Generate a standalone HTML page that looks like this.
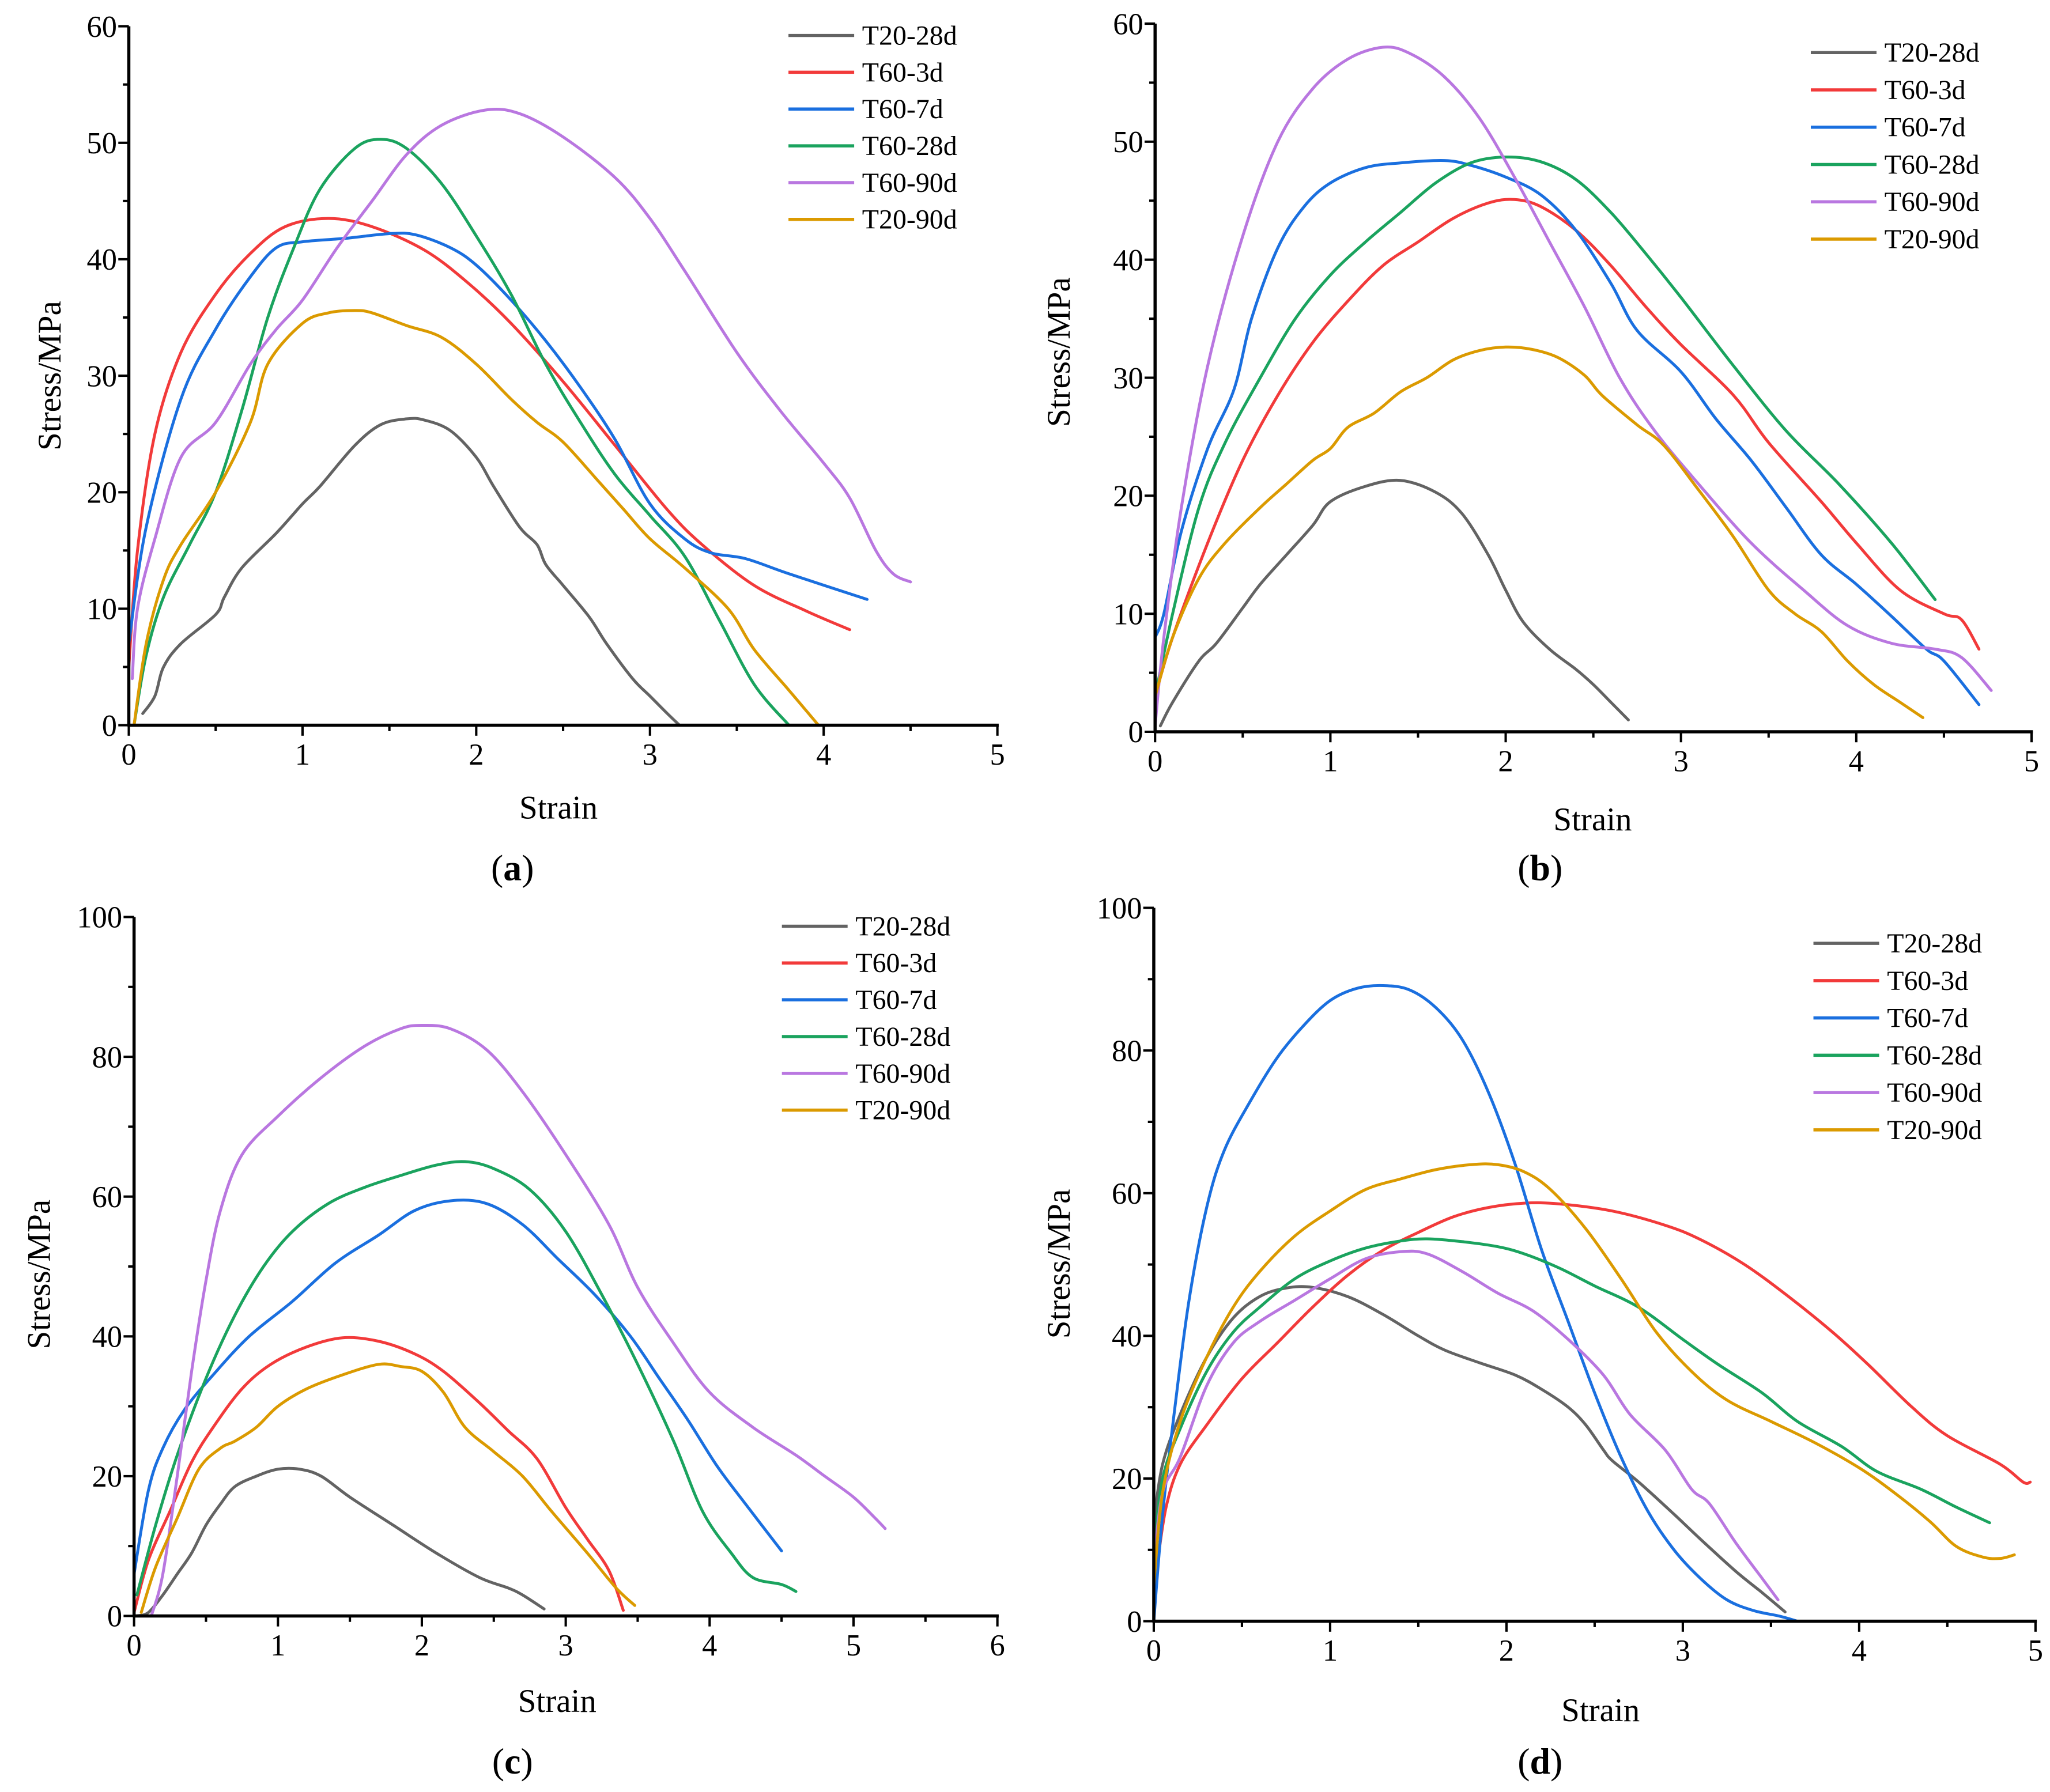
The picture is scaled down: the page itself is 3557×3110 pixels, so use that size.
<!DOCTYPE html>
<html><head><meta charset="utf-8">
<style>
html,body{margin:0;padding:0;background:#fff;}
svg{display:block;font-family:"Liberation Serif","DejaVu Serif",serif;}
svg text{font-family:"Liberation Serif","DejaVu Serif",serif;fill:#000;}
</style></head>
<body>
<svg id="fig" width="3557" height="3110" viewBox="0 0 1560 1364" font-family="Liberation Serif, DejaVu Serif, serif" xmlns="http://www.w3.org/2000/svg"></svg>
<script>
const seriesNames = ["T20-28d","T60-3d","T60-7d","T60-28d","T60-90d","T20-90d"];
const seriesColors = ["#636363","#F23A3A","#1A6FDF","#1AA35E","#B977E0","#DB9A00"];

const aT2028 = [[0.08,1],[0.15,2.5],[0.2,5],[0.3,7],[0.5,9.5],[0.55,11],[0.65,13.5],[0.85,16.5],[1,19],[1.1,20.5],[1.3,24],[1.45,25.8],[1.6,26.3],[1.7,26.2],[1.85,25.3],[2,23],[2.1,20.5],[2.25,17],[2.35,15.5],[2.4,13.8],[2.5,12],[2.65,9.3],[2.75,7],[2.9,4],[3.0,2.5],[3.1,1],[3.17,0]];
const aT603 = [[0,5],[0.05,15],[0.15,25],[0.3,32],[0.5,37],[0.7,40.5],[0.9,42.8],[1.15,43.5],[1.4,42.8],[1.7,40.8],[1.95,38],[2.2,34.5],[2.5,29.5],[2.8,24],[3.1,18.5],[3.3,15.5],[3.6,12],[3.9,9.8],[4.15,8.2]];
const aT607 = [[0,7],[0.1,17],[0.3,28],[0.5,34],[0.7,38.5],[0.85,41],[1,41.5],[1.25,41.8],[1.5,42.2],[1.65,42.1],[1.85,41],[2,39.5],[2.2,36.5],[2.4,33],[2.6,29],[2.8,24.5],[3.0,19],[3.2,16],[3.35,14.8],[3.55,14.3],[3.8,13],[4.25,10.8]];
const aT6028 = [[0.03,0],[0.1,6],[0.2,11],[0.35,15.5],[0.5,20],[0.65,27],[0.8,35],[0.95,41],[1.1,46],[1.3,49.5],[1.45,50.3],[1.6,49.5],[1.8,46.5],[2,42],[2.2,37],[2.4,31],[2.6,26],[2.8,21.5],[3.0,18],[3.2,14.5],[3.4,9],[3.6,3.5],[3.8,0]];
const aT6090 = [[0.02,4],[0.05,10],[0.15,16],[0.3,23],[0.5,26],[0.7,31],[0.85,34],[1,36.5],[1.2,41],[1.4,45],[1.6,49],[1.8,51.5],[2.05,52.8],[2.25,52.5],[2.5,50.5],[2.8,47],[3.0,43.5],[3.2,39],[3.5,32],[3.75,27],[4.0,22.5],[4.15,19.5],[4.3,15],[4.4,13],[4.5,12.3]];
const aT2090 = [[0.03,0],[0.1,7],[0.2,12.5],[0.3,15.5],[0.5,20],[0.7,26],[0.8,31],[1,34.5],[1.15,35.4],[1.3,35.6],[1.4,35.4],[1.6,34.3],[1.8,33.3],[2,31],[2.2,28],[2.35,26],[2.5,24.3],[2.7,21],[2.85,18.5],[3.0,16],[3.2,13.5],[3.45,10],[3.6,6.5],[3.8,3],[3.97,0]];

const bT2028 = [[0.03,0.5],[0.1,2.5],[0.25,6],[0.35,7.5],[0.5,10.5],[0.6,12.5],[0.75,15],[0.9,17.5],[1,19.5],[1.2,20.8],[1.4,21.3],[1.6,20.3],[1.75,18.5],[1.9,15],[2.0,12],[2.1,9.3],[2.25,7],[2.4,5.3],[2.5,4],[2.6,2.5],[2.7,1]];
const bT603 = [[0,3],[0.1,8],[0.3,16],[0.5,23],[0.7,28.5],[0.9,33],[1.1,36.5],[1.3,39.5],[1.5,41.5],[1.7,43.5],[1.9,44.8],[2.05,45.1],[2.2,44.5],[2.4,42.5],[2.6,39.5],[2.8,36],[3.0,32.8],[3.3,28.5],[3.5,24.5],[3.8,19.5],[4.0,16],[4.25,12],[4.5,10],[4.6,9.5],[4.7,7]];
const bT607 = [[0,8],[0.05,10],[0.15,17],[0.3,24],[0.45,29],[0.55,35],[0.7,41],[0.85,44.5],[1,46.5],[1.2,47.8],[1.4,48.2],[1.65,48.4],[1.8,48],[2.0,47],[2.2,45.5],[2.4,42.5],[2.6,38],[2.75,34],[3.0,30.5],[3.2,26.5],[3.4,23],[3.6,19],[3.8,15],[4.0,12.5],[4.2,9.8],[4.4,7],[4.5,6],[4.7,2.3]];
const bT6028 = [[0,3],[0.1,10],[0.25,19],[0.4,24.5],[0.6,30],[0.8,35],[1,38.7],[1.2,41.5],[1.4,44],[1.6,46.5],[1.8,48.2],[2.0,48.7],[2.2,48.3],[2.4,46.8],[2.6,44],[2.8,40.5],[3.0,36.8],[3.3,31],[3.6,25.5],[3.9,21],[4.2,16],[4.45,11.2]];
const bT6090 = [[0,0.5],[0.05,8],[0.15,19],[0.3,31],[0.5,42],[0.7,50],[0.9,54.5],[1.1,57],[1.3,58],[1.45,57.5],[1.65,55.5],[1.85,52],[2.05,47],[2.25,41.5],[2.45,36],[2.65,30],[2.85,25.5],[3.1,21],[3.4,16],[3.7,12],[3.95,9],[4.2,7.5],[4.45,7],[4.6,6.3],[4.77,3.5]];
const bT2090 = [[0,3],[0.1,8],[0.25,13],[0.4,16],[0.6,19],[0.75,21],[0.9,23],[1.0,24],[1.1,25.8],[1.25,27],[1.4,28.8],[1.55,30],[1.7,31.5],[1.85,32.3],[2.0,32.6],[2.15,32.4],[2.3,31.7],[2.45,30.2],[2.55,28.5],[2.75,26],[2.9,24.3],[3.1,20.5],[3.3,16.5],[3.5,12],[3.65,10],[3.8,8.5],[3.95,6],[4.1,4],[4.25,2.5],[4.38,1.2]];

const cT2028 = [[0.02,0],[0.1,0.5],[0.2,3],[0.3,6],[0.4,9],[0.5,13],[0.6,16],[0.7,18.5],[0.85,20],[1.0,21],[1.15,21],[1.3,20],[1.5,17],[1.8,13],[2.1,9],[2.4,5.5],[2.6,4],[2.7,3],[2.85,1]];
const cT603 = [[0,0.5],[0.1,8],[0.25,15],[0.4,22],[0.55,27],[0.75,32.5],[0.95,36],[1.2,38.5],[1.45,39.8],[1.7,39.3],[1.95,37.5],[2.15,35],[2.4,30.5],[2.6,26.5],[2.8,22.5],[3.0,15.5],[3.15,11],[3.3,6.5],[3.4,0.8]];
const cT607 = [[0,6],[0.1,18],[0.2,24],[0.35,29.5],[0.55,34.5],[0.8,40],[1.1,45],[1.4,50.5],[1.7,54.5],[1.95,58],[2.2,59.4],[2.45,59],[2.7,56],[2.95,51],[3.2,46],[3.45,40],[3.65,34],[3.85,28],[4.05,21.5],[4.25,16],[4.5,9.3]];
const cT6028 = [[0.02,3],[0.15,13],[0.3,23],[0.5,34],[0.7,43],[0.9,50],[1.1,55],[1.35,59],[1.6,61.3],[1.85,63],[2.1,64.5],[2.3,65],[2.5,64],[2.75,61],[3.0,55],[3.25,46],[3.5,36],[3.75,25],[3.95,15],[4.15,9],[4.3,5.5],[4.5,4.5],[4.6,3.5]];
const cT6090 = [[0.12,0],[0.2,6],[0.3,20],[0.4,35],[0.5,48],[0.6,58],[0.75,66],[1.0,71.5],[1.3,77],[1.6,81.5],[1.85,84],[2.0,84.5],[2.2,84],[2.45,81],[2.7,75],[3.0,66],[3.3,56],[3.5,47],[3.75,39],[4.0,32],[4.3,27],[4.6,23],[4.8,20],[5.0,17],[5.15,14],[5.22,12.5]];
const cT2090 = [[0.05,0.5],[0.15,7],[0.3,14],[0.45,21],[0.6,24],[0.7,25],[0.85,27],[1.0,30],[1.2,32.5],[1.45,34.5],[1.7,36],[1.85,35.7],[2.0,35],[2.15,32],[2.3,27],[2.5,23.5],[2.7,20],[2.9,15],[3.15,9],[3.35,4],[3.48,1.5]];

const dT2028 = [[0,14],[0.05,22],[0.15,29],[0.3,37],[0.45,42.5],[0.6,45.5],[0.75,46.7],[0.9,46.8],[1.1,45.5],[1.3,43],[1.5,40],[1.65,38],[1.85,36.2],[2.05,34.5],[2.2,32.5],[2.35,30],[2.45,27.5],[2.55,24],[2.6,22.5],[2.75,19.5],[2.95,15],[3.1,11.5],[3.3,7],[3.45,4],[3.58,1.3]];
const dT603 = [[0.02,8],[0.07,16],[0.15,22],[0.3,27.5],[0.5,34],[0.7,39],[0.9,44],[1.1,48.5],[1.3,52],[1.5,54.5],[1.7,56.7],[1.9,58],[2.1,58.6],[2.3,58.5],[2.6,57.5],[2.9,55.5],[3.1,53.5],[3.35,50],[3.6,45.5],[3.85,40.5],[4.05,36],[4.3,30],[4.5,26],[4.8,22],[4.93,19.5],[4.97,19.5]];
const dT607 = [[0,0],[0.05,15],[0.12,30],[0.2,45],[0.3,58],[0.4,66],[0.55,73],[0.7,79],[0.85,83.5],[1.0,87],[1.15,88.7],[1.3,89.1],[1.45,88.5],[1.6,86],[1.75,81.5],[1.9,74],[2.05,64],[2.2,52],[2.35,42],[2.5,32],[2.65,23],[2.8,15.5],[2.95,10],[3.1,6],[3.25,3],[3.4,1.5],[3.55,0.7],[3.65,0]];
const dT6028 = [[0,10],[0.05,20],[0.15,27],[0.3,35],[0.45,40.5],[0.6,44],[0.8,48],[1.0,50.5],[1.2,52.3],[1.4,53.3],[1.55,53.6],[1.75,53.2],[1.95,52.5],[2.1,51.5],[2.3,49.5],[2.5,47],[2.75,44],[3.0,39.5],[3.2,36],[3.45,32],[3.65,28],[3.9,24.5],[4.1,21],[4.35,18.5],[4.55,16],[4.74,13.8]];
const dT6090 = [[0,8],[0.05,18],[0.15,23],[0.3,33],[0.45,39],[0.6,42],[0.8,45],[1.0,48],[1.2,50.8],[1.4,51.8],[1.55,51.5],[1.75,49],[1.95,46],[2.15,43.5],[2.35,39.5],[2.55,34.5],[2.7,29],[2.9,24],[3.05,18.5],[3.15,16.5],[3.3,11],[3.45,6],[3.54,3]];
const dT2090 = [[0,5],[0.05,18],[0.15,28],[0.3,37],[0.45,44],[0.6,49],[0.8,54],[1.0,57.5],[1.2,60.5],[1.4,62],[1.6,63.3],[1.8,64],[1.95,64],[2.1,63],[2.25,60.5],[2.45,55],[2.65,48],[2.85,40.5],[3.05,35],[3.25,31],[3.5,28],[3.75,25],[4.0,21.5],[4.2,18],[4.4,14],[4.55,10.5],[4.7,9],[4.8,8.8],[4.88,9.3]];

const xTicksA = [0,1,2,3,4,5];
const yTicksA = [0,10,20,30,40,50,60];
const xTicksC = [0,1,2,3,4,5,6];
const yTicksD = [0,20,40,60,80,100];

const panels = [
 {id:"a", x0:98, x1:759, y0:552, y1:20, xmax:5, ymax:60, xt:xTicksA, yt:yTicksA, xminor:0.5, yminor:5,
  series:[aT2028,aT603,aT607,aT6028,aT6090,aT2090], legX:600, legY:27, legDy:28,
  ylab:[38,286], xlab:[425,623], plab:[390,670]},
 {id:"b", x0:879, x1:1546, y0:557, y1:18, xmax:5, ymax:60, xt:xTicksA, yt:yTicksA, xminor:0.5, yminor:5,
  series:[bT2028,bT603,bT607,bT6028,bT6090,bT2090], legX:1378, legY:40, legDy:28.4,
  ylab:[806,268], xlab:[1212,632], plab:[1172,670]},
 {id:"c", x0:102, x1:759, y0:1230, y1:698, xmax:6, ymax:100, xt:xTicksC, yt:yTicksD, xminor:0.5, yminor:10,
  series:[cT2028,cT603,cT607,cT6028,cT6090,cT2090], legX:595, legY:705, legDy:28,
  ylab:[30,970], xlab:[424,1303], plab:[390,1350]},
 {id:"d", x0:878, x1:1549, y0:1234, y1:691, xmax:5, ymax:100, xt:xTicksA, yt:yTicksD, xminor:0.5, yminor:10,
  series:[dT2028,dT603,dT607,dT6028,dT6090,dT2090], legX:1380, legY:718, legDy:28.4,
  ylab:[806,962], xlab:[1218,1310], plab:[1172,1350]}
];

const NS="http://www.w3.org/2000/svg";
const svg=document.getElementById("fig");
const FF="Liberation Serif, DejaVu Serif, serif";
function mk(tag,attrs,parent){const e=document.createElementNS(NS,tag);for(const k in attrs)e.setAttribute(k,attrs[k]);if(tag==="text")e.setAttribute("font-family",FF);(parent||svg).appendChild(e);return e;}
function smoothPath(pts){
  let d="M"+pts[0][0].toFixed(2)+","+pts[0][1].toFixed(2);
  for(let i=0;i<pts.length-1;i++){
    const p0=pts[Math.max(0,i-1)],p1=pts[i],p2=pts[i+1],p3=pts[Math.min(pts.length-1,i+2)];
    const c1=[p1[0]+(p2[0]-p0[0])/6,p1[1]+(p2[1]-p0[1])/6];
    const c2=[p2[0]-(p3[0]-p1[0])/6,p2[1]-(p3[1]-p1[1])/6];
    d+="C"+c1[0].toFixed(2)+","+c1[1].toFixed(2)+" "+c2[0].toFixed(2)+","+c2[1].toFixed(2)+" "+p2[0].toFixed(2)+","+p2[1].toFixed(2);
  }
  return d;
}

panels.forEach(p=>{
  const g=mk("g",{});
  
  
  const sx=v=>p.x0+(p.x1-p.x0)*v/p.xmax;
  const sy=v=>p.y0+(p.y1-p.y0)*v/p.ymax;
  p.series.forEach((s,i)=>{
    const pts=s.map(pt=>[sx(pt[0]),sy(pt[1])]);
    const path=mk("path",{d:smoothPath(pts),fill:"none",stroke:seriesColors[i],"stroke-width":2.2,"stroke-linejoin":"round","stroke-linecap":"round"},g);
    
    
  });
  const xa=mk("line",{x1:p.x0,y1:p.y0,x2:p.x1+1,y2:p.y0,stroke:"#000","stroke-width":2.4},g);
  
  
  const ya=mk("line",{x1:p.x0,y1:p.y0+1,x2:p.x0,y2:p.y1,stroke:"#000","stroke-width":2.4},g);
  
  
  for(let v=0;v<=p.xmax+1e-9;v+=p.xminor){
    const major=Math.abs(v-Math.round(v))<1e-9;
    mk("line",{x1:sx(v),y1:p.y0,x2:sx(v),y2:p.y0+(major?8:4.5),stroke:"#000","stroke-width":1.8},g);
  }
  p.xt.forEach(v=>{
    const t=mk("text",{x:sx(v),y:p.y0+30,"text-anchor":"middle","font-size":23},g);
    t.textContent=v;
    
    
  });
  for(let v=0;v<=p.ymax+1e-9;v+=p.yminor){
    const major=p.yt.some(t=>Math.abs(t-v)<1e-9);
    mk("line",{x1:p.x0,y1:sy(v),x2:p.x0-(major?8:4.5),y2:sy(v),stroke:"#000","stroke-width":1.8},g);
  }
  p.yt.forEach(v=>{
    const t=mk("text",{x:p.x0-9,y:sy(v)+8,"text-anchor":"end","font-size":23},g);
    t.textContent=v;
    
    
  });
  const yl=mk("text",{x:p.ylab[0],y:p.ylab[1],"text-anchor":"middle","font-size":25,transform:`rotate(-90 ${p.ylab[0]} ${p.ylab[1]})`,dy:8},g);
  yl.textContent="Stress/MPa";
  
  
  const xl=mk("text",{x:p.xlab[0],y:p.xlab[1],"text-anchor":"middle","font-size":25},g);
  xl.textContent="Strain";
  
  
  const pl=mk("text",{x:p.plab[0],y:p.plab[1],"text-anchor":"middle","font-size":28},g);
  pl.innerHTML='(<tspan font-weight="bold">'+p.id+'</tspan>)';
  
  
  seriesNames.forEach((n,i)=>{
    const y=p.legY+i*p.legDy;
    const lg=mk("g",{},g);
    
    
    mk("line",{x1:p.legX,y1:y,x2:p.legX+50,y2:y,stroke:seriesColors[i],"stroke-width":2.4},lg);
    const t=mk("text",{x:p.legX+56,y:y+7,"font-size":21},lg);
    t.textContent=n;
  });
});
</script>
</body></html>
